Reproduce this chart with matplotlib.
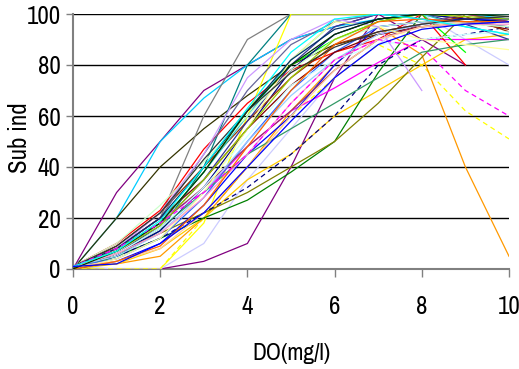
import numpy as np
import matplotlib.pyplot as plt
from matplotlib import font_manager
from matplotlib.transforms import Bbox, TransformedBbox

nan = np.nan
do_values = [0, 1, 2, 3, 4, 5, 6, 7, 8, 9, 10]
y_ticks = [0, 20, 40, 60, 80, 100]
x_ticks = [0, 2, 4, 6, 8, 10]

# sub index curves, one list per station/series
curves = [
    [0, 30, 50, 70, 80, 90, 95, 100, 100, 100, 100],
    [0, 20, 50, 67, 80, 90, 95, 98, 100, 100, 98],
    [0, 20, 40, 55, 68, 80, 88, 92, 95, 96, 97],
    [0, 8, 20, 60, 90, 100, 100, 100, 100, 100, 100],
    [0, 0, 0, 3, 10, 40, 75, 100, 90, 80, nan],
    [0, 5, 15, 40, 80, 100, 100, 100, 100, 98, 97],
    [0, 0, 0, 18, 60, 100, 100, 100, 100, 100, 100],
    [1, 0, 0, 10, 35, 55, 75, 88, 100, 90, 80],
    [0, 0, 0, 20, 40, 60, 75, 88, 80, 62, 51],
    [1, 2, 5, 20, 40, 62, 80, 95, 84, 40, 5],
    [0, 2, 8, 20, 35, 45, 60, 70, 80, 90, 92],
    [0, 5, 12, 20, 27, 38, 50, 77, 100, 100, 100],
    [0, 6, 14, 22, 30, 40, 50, 65, 83, 100, 97],
    [1, 8, 20, 30, 48, 62, 71, 81, 90, 90, 90],
    [1, 5, 12, 22, 32, 45, 60, 80, 90, 92, 95],
    [1, 10, 23, 47, 65, 78, 85, 90, 100, 80, nan],
    [1, 8, 18, 38, 62, 80, 90, 97, 100, 85, nan],
    [1, 6, 15, 32, 55, 78, 92, 98, 100, 98, 97],
    [0, 3, 10, 25, 45, 60, 80, 95, 97, 98, 98],
    [1, 4, 12, 28, 50, 70, 85, 95, 97, 96, 97],
    [1, 8, 20, 35, 55, 72, 85, 92, 95, 97, 94],
    [0, 9, 22, 40, 58, 75, 88, 93, 96, 99, 93],
    [1, 7, 18, 32, 48, 62, 78, 90, 96, 100, 97],
    [1, 6, 17, 35, 58, 80, 95, 100, 100, 96, 90],
    [1, 6, 16, 30, 45, 55, 65, 75, 85, 88, 90],
    [1, 7, 18, 38, 60, 82, 97, 100, 100, 95, 92],
    [1, 8, 20, 45, 70, 88, 97, 100, 98, 97, 95],
    [1, 5, 14, 30, 50, 68, 82, 92, 96, 97, 97],
    [1, 6, 16, 32, 52, 72, 82, 88, 90, 92, 93],
    [1, 10, 25, 42, 60, 78, 90, 95, 97, 96, 95],
    [0, 4, 12, 30, 55, 82, 97, 95, 90, 88, 86],
    [1, 6, 14, 28, 45, 65, 82, 90, 95, 96, 96],
    [1, 8, 22, 45, 75, 90, 98, 95, 70, nan, nan],
    [1, 3, 8, 22, 40, 60, 78, 90, 95, 97, 97],
    [1, 7, 17, 35, 55, 75, 90, 97, 100, 99, 98],
    [0, 3, 9, 25, 48, 70, 88, 97, 98, 97, 97],
    [1, 8, 20, 40, 62, 82, 94, 98, 100, 100, 100],
    [0, 7, 18, 38, 62, 80, 92, 98, 100, 100, 99],
    [1, 9, 22, 43, 62, 77, 87, 93, 96, 98, 99],
    [1, 8, 18, 30, 45, 65, 82, 90, 87, 70, 60],
    [1, 7, 19, 40, 63, 85, 98, 100, 98, 95, 92],
    [1, 2, 10, 22, 40, 58, 75, 88, 94, 96, 97],
]
colors = [
    '#800080', '#00CCFF', '#333300', '#808080', '#800080', '#008080',
    '#FFFF00', '#CCCCFF', '#FFFF00', '#FF9900', '#FFCC00', '#008000',
    '#808000', '#FF00FF', '#000080', '#FF0000', '#00FF00', '#000080',
    '#0000FF', '#3366FF', '#800000', '#993300', '#993366', '#333399',
    '#339966', '#33CCCC', '#666699', '#99CCFF', '#CCFFFF', '#CCFFCC',
    '#FFFF99', '#FF99CC', '#CC99FF', '#FFCC99', '#99CC00', '#FF6600',
    '#003366', '#003300', '#333333', '#FF00FF', '#00FFFF', '#0000FF',
]
dashed = {8, 14, 39}

# look for a narrow face, the reference uses condensed lettering
names = sorted({f.name for f in font_manager.fontManager.ttflist})
narrow = [n for n in names if 'Narrow' in n or 'Condensed' in n]
pref = ['Liberation Sans Narrow', 'DejaVu Sans Condensed']
pick = [n for n in pref if n in names] or narrow
font = pick[:1] + ['Liberation Sans', 'DejaVu Sans']
is_narrow = bool(pick)
tsize = 18 if is_narrow else 14

fig = plt.figure(figsize=(5.19, 3.69), dpi=100)
ax = fig.add_axes([73/519, 100/369, 436/519, 255/369])

for i, (vals, c) in enumerate(zip(curves, colors)):
    ax.plot(do_values, vals, color=c, lw=0.9,
            ls=(0, (4, 3)) if i in dashed else '-', zorder=3)

ax.set_xlim(0, 10)
ax.set_ylim(0, 100)
ax.set_xticks(x_ticks)
ax.set_yticks(y_ticks)
ax.set_xticklabels([str(t) for t in x_ticks], family=font, fontsize=tsize)
ax.set_yticklabels([str(t) for t in y_ticks], family=font, fontsize=tsize)
ax.tick_params(axis='x', length=6, width=1, color='#808080', pad=13)
ax.tick_params(axis='y', length=5, width=1, color='#808080', pad=4)
ax.yaxis.grid(True, color='black', lw=1)
ax.set_axisbelow(True)

for s in ['right', 'top']:
    ax.spines[s].set_visible(False)
for s in ['left', 'bottom']:
    ax.spines[s].set_color('#808080')
    ax.spines[s].set_linewidth(1.5)

ax.set_xlabel('DO(mg/l)', family=font, fontsize=tsize - 1, labelpad=18)

# y label is partly hidden in the reference, only "Sub in.." shows
lbl = fig.text(19.5/519, 1 - 173/369, 'Sub index', rotation=90, ha='center',
               va='bottom', family=font, fontsize=tsize)
lbl.set_clip_box(TransformedBbox(Bbox([[0, 1 - 173/369 - 0.05], [0.2, 1 - 103/369]]),
                                 fig.transFigure))
lbl.set_clip_on(True)

fig.savefig('out.png', dpi=100)
